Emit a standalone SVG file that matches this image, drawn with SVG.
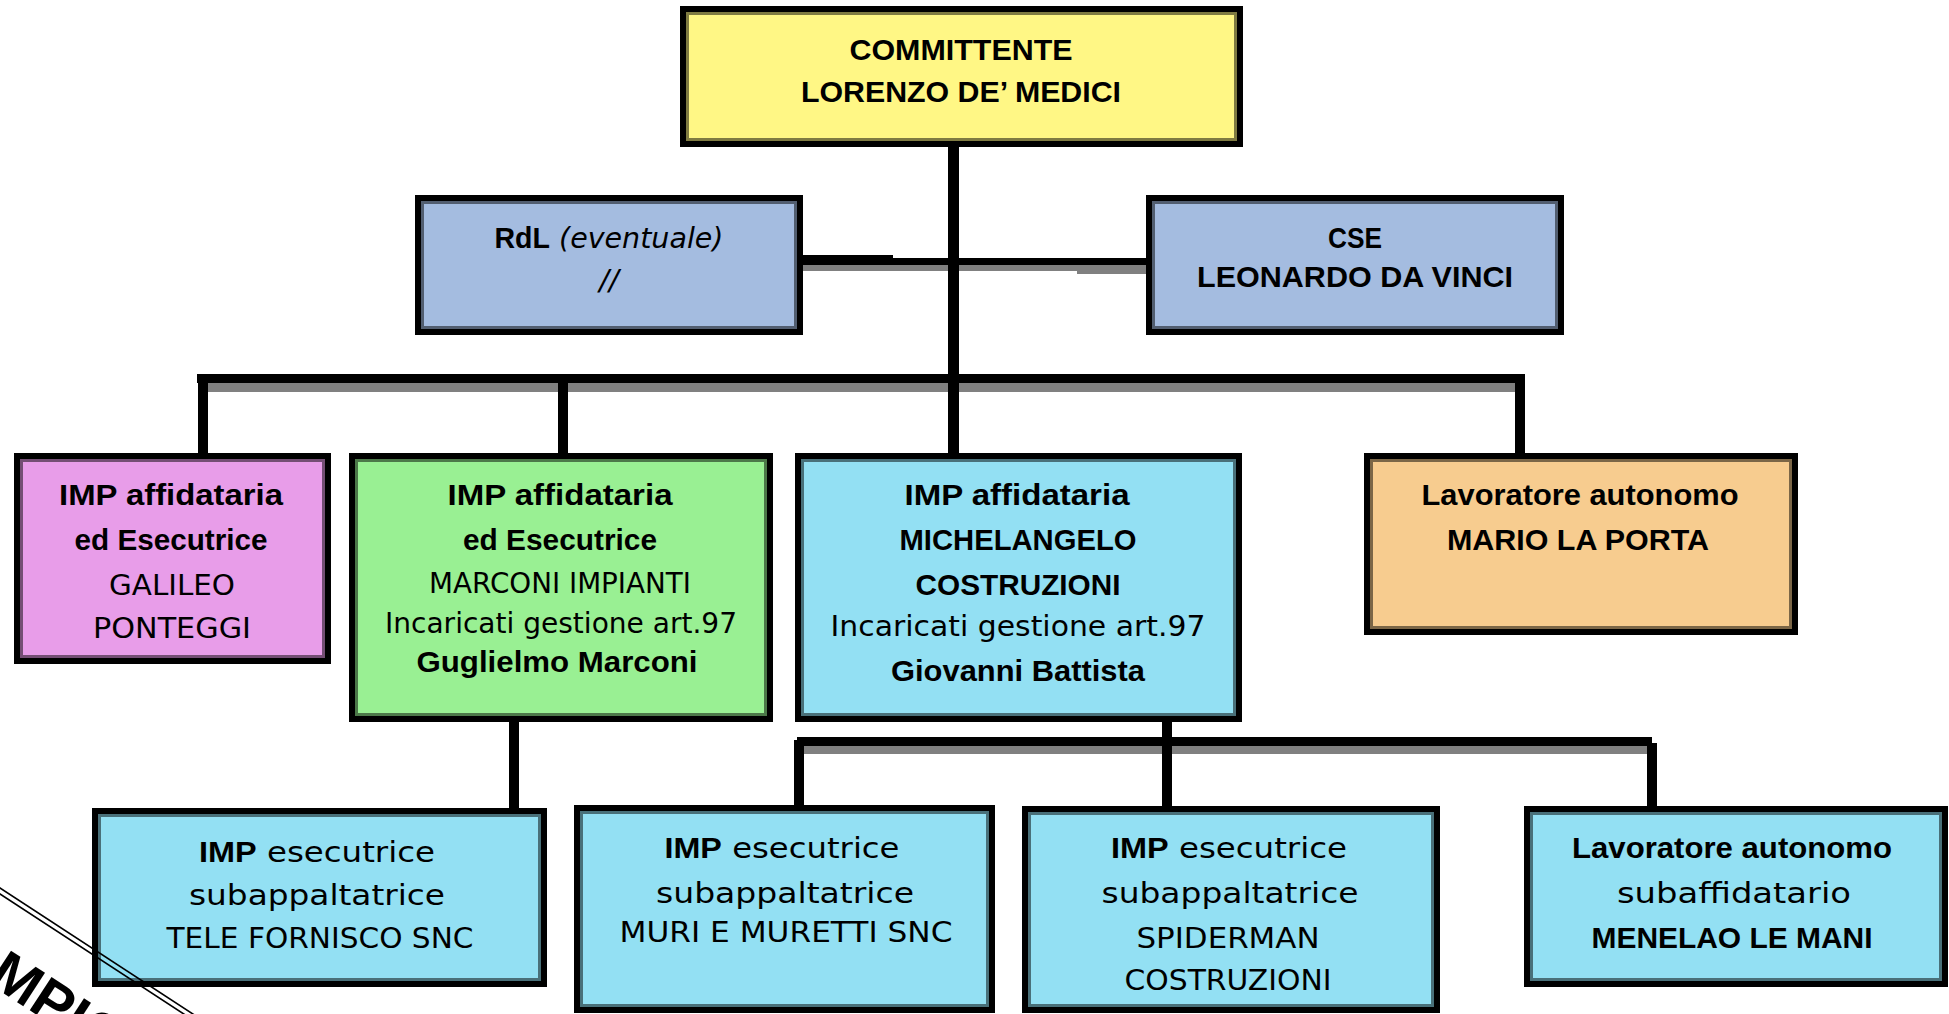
<svg xmlns="http://www.w3.org/2000/svg" width="1949" height="1014" viewBox="0 0 1949 1014">
<style>
.bx{stroke:#000;stroke-width:6}
.sh{fill:none;stroke:#000;stroke-opacity:.5;stroke-width:3}
.k{fill:#000}
.g{fill:#808080}
text{text-anchor:middle;fill:#000}
.b{font-family:"Liberation Sans",Arial,sans-serif;font-weight:bold;font-size:30px}
.n{font-family:"DejaVu Sans","Liberation Sans",sans-serif;font-size:29px}
.bt{font-family:"Liberation Sans",Arial,sans-serif;font-weight:bold}
.it{font-family:"DejaVu Sans","Liberation Sans",sans-serif;font-style:italic;font-weight:normal}
.stamp{font-family:"Liberation Sans",Arial,sans-serif;font-weight:bold;font-size:58px;text-anchor:start}
</style>
<rect width="1949" height="1014" fill="#fff"/>
<g id="connectors">
  <rect class="k" x="948" y="145" width="11" height="310"/>
  <rect class="k" x="803" y="258" width="343" height="7"/>
  <rect class="g" x="803" y="265" width="343" height="6"/>
  <rect class="k" x="803" y="255" width="90" height="3"/>
  <rect class="g" x="1077" y="271" width="69" height="3"/>
  <rect class="k" x="948" y="258" width="11" height="13"/>
  <rect class="k" x="197" y="374" width="1328" height="9"/>
  <rect class="g" x="208" y="383" width="1307" height="9"/>
  <rect class="k" x="948" y="374" width="11" height="18"/>
  <rect class="k" x="198" y="377" width="10" height="78"/>
  <rect class="k" x="558" y="383" width="10" height="72"/>
  <rect class="k" x="1515" y="383" width="10" height="72"/>
  <rect class="k" x="509" y="720" width="10" height="90"/>
  <rect class="k" x="1162" y="720" width="10" height="88"/>
  <rect class="k" x="797" y="737" width="855" height="9"/>
  <rect class="g" x="804" y="746" width="843" height="8"/>
  <rect class="k" x="1162" y="737" width="10" height="17"/>
  <rect class="k" x="794" y="740" width="10" height="67"/>
  <rect class="k" x="1647" y="743" width="10" height="65"/>
</g>
<g id="committente">
  <rect class="bx" x="683" y="9" width="557" height="135" fill="#FFF785"/>
  <rect class="sh" x="687.5" y="13.5" width="548" height="126"/>
  <text class="b" x="961" y="60" textLength="223" lengthAdjust="spacingAndGlyphs">COMMITTENTE</text>
  <text class="b" x="961" y="102" textLength="320" lengthAdjust="spacingAndGlyphs">LORENZO DE’ MEDICI</text>
</g>
<g id="rdl">
  <rect class="bx" x="418" y="198" width="382" height="134" fill="#A4BCE0"/>
  <rect class="sh" x="422.5" y="202.5" width="373" height="125"/>
  <text class="n" x="609" y="248" textLength="229" lengthAdjust="spacingAndGlyphs"><tspan class="bt">RdL</tspan> <tspan class="it">(eventuale)</tspan></text>
  <text class="n it" x="609" y="290" font-size="30">//</text>
</g>
<g id="cse">
  <rect class="bx" x="1149" y="198" width="412" height="134" fill="#A4BCE0"/>
  <rect class="sh" x="1153.5" y="202.5" width="403" height="125"/>
  <text class="b" x="1355" y="248" textLength="54" lengthAdjust="spacingAndGlyphs">CSE</text>
  <text class="b" x="1355" y="287" textLength="316" lengthAdjust="spacingAndGlyphs">LEONARDO DA VINCI</text>
</g>
<g id="galileo">
  <rect class="bx" x="17" y="456" width="311" height="205" fill="#E89DE9"/>
  <rect class="sh" x="21.5" y="460.5" width="302" height="196"/>
  <text class="b" x="171" y="505" textLength="224" lengthAdjust="spacingAndGlyphs">IMP affidataria</text>
  <text class="b" x="171" y="550" textLength="193" lengthAdjust="spacingAndGlyphs">ed Esecutrice</text>
  <text class="n" x="172" y="595" textLength="126" lengthAdjust="spacingAndGlyphs">GALILEO</text>
  <text class="n" x="172" y="638" textLength="158" lengthAdjust="spacingAndGlyphs">PONTEGGI</text>
</g>
<g id="marconi">
  <rect class="bx" x="352" y="456" width="418" height="263" fill="#99F093"/>
  <rect class="sh" x="356.5" y="460.5" width="409" height="254"/>
  <text class="b" x="560" y="505" textLength="225" lengthAdjust="spacingAndGlyphs">IMP affidataria</text>
  <text class="b" x="560" y="550" textLength="194" lengthAdjust="spacingAndGlyphs">ed Esecutrice</text>
  <text class="n" x="560" y="593" textLength="262" lengthAdjust="spacingAndGlyphs">MARCONI IMPIANTI</text>
  <text class="n" x="561" y="633" textLength="352" lengthAdjust="spacingAndGlyphs">Incaricati gestione art.97</text>
  <text class="b" x="557" y="672" textLength="281" lengthAdjust="spacingAndGlyphs">Guglielmo Marconi</text>
</g>
<g id="michelangelo">
  <rect class="bx" x="798" y="456" width="441" height="263" fill="#93E0F3"/>
  <rect class="sh" x="802.5" y="460.5" width="432" height="254"/>
  <text class="b" x="1017" y="505" textLength="225" lengthAdjust="spacingAndGlyphs">IMP affidataria</text>
  <text class="b" x="1018" y="550" textLength="237" lengthAdjust="spacingAndGlyphs">MICHELANGELO</text>
  <text class="b" x="1018" y="595" textLength="205" lengthAdjust="spacingAndGlyphs">COSTRUZIONI</text>
  <text class="n" x="1018" y="636" font-size="30" textLength="375" lengthAdjust="spacingAndGlyphs">Incaricati gestione art.97</text>
  <text class="b" x="1018" y="681" textLength="254" lengthAdjust="spacingAndGlyphs">Giovanni Battista</text>
</g>
<g id="laporta">
  <rect class="bx" x="1367" y="456" width="428" height="176" fill="#F7CC8F"/>
  <rect class="sh" x="1371.5" y="460.5" width="419" height="167"/>
  <text class="b" x="1580" y="505" textLength="317" lengthAdjust="spacingAndGlyphs">Lavoratore autonomo</text>
  <text class="b" x="1578" y="550" textLength="262" lengthAdjust="spacingAndGlyphs">MARIO LA PORTA</text>
</g>
<g id="telefornisco">
  <rect class="bx" x="95" y="811" width="449" height="173" fill="#93E0F3"/>
  <rect class="sh" x="99.5" y="815.5" width="440" height="164"/>
  <text class="n" x="317" y="862" font-size="31" textLength="236" lengthAdjust="spacingAndGlyphs"><tspan class="bt">IMP</tspan> esecutrice</text>
  <text class="n" x="317" y="905" font-size="31" textLength="256" lengthAdjust="spacingAndGlyphs">subappaltatrice</text>
  <text class="n" x="320" y="948" font-size="31" textLength="307" lengthAdjust="spacingAndGlyphs">TELE FORNISCO SNC</text>
</g>
<g id="muri">
  <rect class="bx" x="577" y="808" width="415" height="202" fill="#93E0F3"/>
  <rect class="sh" x="581.5" y="812.5" width="406" height="193"/>
  <text class="n" x="782" y="858" font-size="31" textLength="235" lengthAdjust="spacingAndGlyphs"><tspan class="bt">IMP</tspan> esecutrice</text>
  <text class="n" x="785" y="903" font-size="31" textLength="258" lengthAdjust="spacingAndGlyphs">subappaltatrice</text>
  <text class="n" x="786" y="942" font-size="31" textLength="333" lengthAdjust="spacingAndGlyphs">MURI E MURETTI SNC</text>
</g>
<g id="spiderman">
  <rect class="bx" x="1025" y="809" width="412" height="201" fill="#93E0F3"/>
  <rect class="sh" x="1029.5" y="813.5" width="403" height="192"/>
  <text class="n" x="1229" y="858" font-size="31" textLength="236" lengthAdjust="spacingAndGlyphs"><tspan class="bt">IMP</tspan> esecutrice</text>
  <text class="n" x="1230" y="903" font-size="31" textLength="257" lengthAdjust="spacingAndGlyphs">subappaltatrice</text>
  <text class="n" x="1228" y="948" font-size="31" textLength="183" lengthAdjust="spacingAndGlyphs">SPIDERMAN</text>
  <text class="n" x="1228" y="990" font-size="31" textLength="207" lengthAdjust="spacingAndGlyphs">COSTRUZIONI</text>
</g>
<g id="menelao">
  <rect class="bx" x="1527" y="809" width="418" height="175" fill="#93E0F3"/>
  <rect class="sh" x="1531.5" y="813.5" width="409" height="166"/>
  <text class="b" x="1732" y="858" textLength="320" lengthAdjust="spacingAndGlyphs">Lavoratore autonomo</text>
  <text class="n" x="1734" y="903" font-size="31" textLength="234" lengthAdjust="spacingAndGlyphs">subaffidatario</text>
  <text class="b" x="1732" y="948" textLength="281" lengthAdjust="spacingAndGlyphs">MENELAO LE MANI</text>
</g>
<g id="stamp">
  <line x1="-5" y1="884.7" x2="205" y2="1021.9" stroke="#000" stroke-width="1.6"/>
  <line x1="-5" y1="890.7" x2="195" y2="1021.3" stroke="#000" stroke-width="1.6"/>
  <text class="stamp" transform="translate(-14,982) rotate(33)">MPIO</text>
</g>
</svg>
